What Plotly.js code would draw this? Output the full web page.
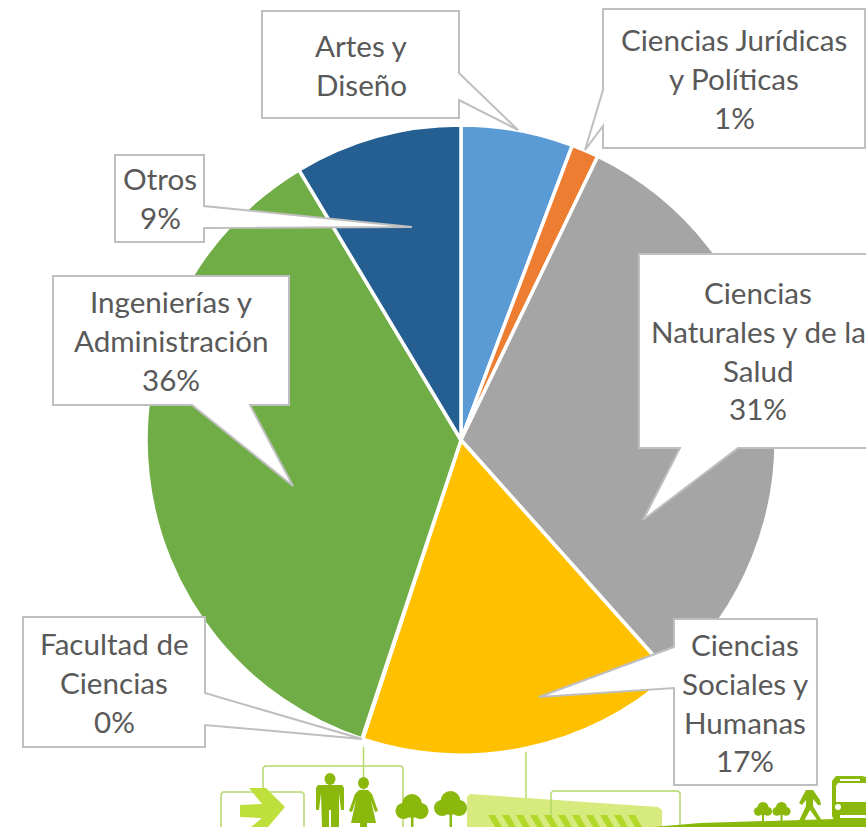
<!DOCTYPE html>
<html>
<head>
<meta charset="utf-8">
<script src="https://cdn.plot.ly/plotly-3.0.1.min.js"></script>
<style>html,body{margin:0;padding:0;background:#fff;overflow:hidden}#c{width:866px;height:827px}</style>
</head>
<body>
<div id="c"></div>
<script>
var categories = ["Artes y Diseño","Ciencias Jurídicas y Políticas","Ciencias Naturales y de la Salud","Ciencias Sociales y Humanas","Facultad de Ciencias","Ingenierías y Administración","Otros"];
var shares = [5.75,1.4,31.25,16.65,0.05,36.3,8.6];
var sliceColors = ["#5B9BD5","#ED7D31","#A5A5A5","#FFC000","#4472C4","#70AD47","#255E91"];
var calloutLines = [
  ["Artes y","Diseño"],
  ["Ciencias Jurídicas","y Políticas","1%"],
  ["Ciencias","Naturales y de la","Salud","31%"],
  ["Ciencias","Sociales y","Humanas","17%"],
  ["Facultad de","Ciencias","0%"],
  ["Ingenierías y","Administración","36%"],
  ["Otros","9%"]
];
var W = 866, H = 827;
var calloutCenterX = [361,734,758,745,114,171,160];
var calloutFirstY = [45.5,39.5,292.5,644.5,643.5,301.5,178.5];
var calloutOutlines = [
  [[262,11],[459,11],[459,73],[518,130],[459,100],[459,118],[262,118]],
  [[603,9],[865,9],[865,148],[603,148],[603,126],[585,150],[603,90]],
  [[639,254],[885,254],[885,448],[738,448],[643,520],[680,448],[639,448]],
  [[674,619],[817,619],[817,785],[674,785],[674,688],[539,697],[674,647]],
  [[23,617],[205,617],[205,693],[362,739],[205,725],[205,747],[23,747]],
  [[53,276],[289,276],[289,405],[250,405],[293,486],[192,405],[53,405]],
  [[115,155],[204,155],[204,206],[412,227],[204,228],[204,242],[115,242]]
];
var LINE = 38.8;
function X(x){return x/W;}
function Y(y){return 1-y/H;}
function poly(pts,close){
  return pts.map(function(p,i){return (i?"L":"M")+X(p[0])+" "+Y(p[1]);}).join(" ")+(close===false?"":" Z");
}
function fillShape(pts,color){return {type:"path",xref:"paper",yref:"paper",path:poly(pts),fillcolor:color,line:{width:0}};}
function strokeShape(pts,color,w){return {type:"path",xref:"paper",yref:"paper",path:poly(pts,false),line:{color:color,width:w||1.5}};}
function circle(cx,cy,rx,ry,color){return {type:"circle",xref:"paper",yref:"paper",x0:X(cx-rx),x1:X(cx+rx),y0:Y(cy+ry),y1:Y(cy-ry),fillcolor:color,line:{width:0}};}
var dark="#8AB80C", light="#B5D76A", pale="#D6EA7D", lime="#BFE03C", stripe="#B2D82A";
var shapes=[];
shapes.push(strokeShape([[363.5,747],[363.5,790]],light,1.5));
shapes.push(strokeShape([[526,752],[526,827]],light,1.5));
shapes.push(strokeShape([[263,792],[263,768],[265,766],[401,766],[403,768],[403,827]],light,1.5));
shapes.push(strokeShape([[221,827],[221,794],[223,792],[302,792],[304,794],[304,827]],light,1.5));
shapes.push(fillShape([[249,788],[266,788],[285,807],[268,827],[251,827],[262,818],[240,817],[240,805],[262,804]],lime));
shapes.push(circle(330,779,5.5,6,dark));
shapes.push(fillShape([[318,785],[342,785],[344,788],[344,810],[341,810],[339,793],[339,827],[331,827],[331,810],[329,810],[329,827],[322,827],[321,793],[319,810],[316,810],[316,788]],dark));
shapes.push(circle(363.5,783,5.5,6,dark));
shapes.push(fillShape([[359,790],[368,790],[372,794],[378,811],[375,812],[371,800],[376,823],[367,823],[367,827],[360,827],[360,823],[351,823],[356,800],[352,812],[349,811],[355,794]],dark));
function tree(cx,top,s){
  shapes.push(circle(cx,top+10*s,10*s,10*s,dark));
  shapes.push(circle(cx-8.5*s,top+17*s,8*s,8*s,dark));
  shapes.push(circle(cx+8.5*s,top+17*s,8*s,8*s,dark));
  shapes.push(circle(cx,top+15*s,10*s,9*s,dark));
}
tree(412,794,1); shapes.push(fillShape([[411,815],[413.5,815],[413.5,827],[411,827]],dark));
tree(450.5,791,1); shapes.push(fillShape([[449.5,812],[452,812],[452,827],[449.5,827]],dark));
shapes.push(fillShape([[470,794],[658,807],[662,810],[662,827],[467,827],[467,797]],pale));
shapes.push(strokeShape([[551,827],[551,793],[553,791],[678,791],[680,793],[680,827]],light,1.5));
for(var i=0;i<11;i++){
  var sx=488+i*14;
  shapes.push(fillShape([[sx,815],[sx+7,815],[sx+14,827],[sx+7,827]],stripe));
}
shapes.push(fillShape([[653,827],[700,823],[866,818],[866,827]],dark));
tree(763,802,0.55); shapes.push(fillShape([[762,812],[764,812],[764,822],[762,822]],dark));
tree(781.5,802,0.55); shapes.push(fillShape([[780.5,812],[782.5,812],[782.5,822],[780.5,822]],dark));
shapes.push(fillShape([[806,790],[813,790],[820,800],[821,805],[818,805],[813,799],[813,806],[822,821],[818,821],[810,810],[804,821],[799,821],[806,806],[806,800],[802,805],[799,803]],dark));
shapes.push(fillShape([[836,776],[862,776],[866,777],[866,820],[834,820],[832,816],[832,781]],dark));
shapes.push(fillShape([[840,779],[860,779],[860,781],[840,781]],"#ffffff"));
shapes.push(fillShape([[838,783],[866,783],[866,802],[836,802],[836,786]],"#ffffff"));
shapes.push(circle(838,807,3,3,"#ffffff"));
shapes.push(fillShape([[840,815],[866,815],[866,818],[840,818]],"#ffffff"));
calloutOutlines.forEach(function(pts){
  shapes.push({type:"path",xref:"paper",yref:"paper",path:poly(pts),fillcolor:"#ffffff",line:{color:"#BFBFBF",width:2}});
});
var annotations=[];
calloutLines.forEach(function(lines,k){
  lines.forEach(function(t,j){
    annotations.push({xref:"paper",yref:"paper",x:X(calloutCenterX[k]),y:Y(calloutFirstY[k]+j*LINE),text:t,showarrow:false,xanchor:"center",yanchor:"middle",font:{family:"Lato, Carlito, sans-serif",size:29.6,color:"#595959"}});
  });
});
Plotly.newPlot("c",[{
  type:"pie",labels:categories,values:shares,sort:false,direction:"clockwise",rotation:0,
  marker:{colors:sliceColors,line:{color:"#ffffff",width:3.5}},
  textinfo:"none",hoverinfo:"label+percent",
  domain:{x:[146/W,776/W],y:[1-755/H,1-125/H]}
}],{
  width:W,height:H,margin:{l:0,r:0,t:0,b:0,pad:0},
  paper_bgcolor:"#ffffff",showlegend:false,shapes:shapes,annotations:annotations
},{displayModeBar:false,staticPlot:true});
</script>
</body>
</html>
